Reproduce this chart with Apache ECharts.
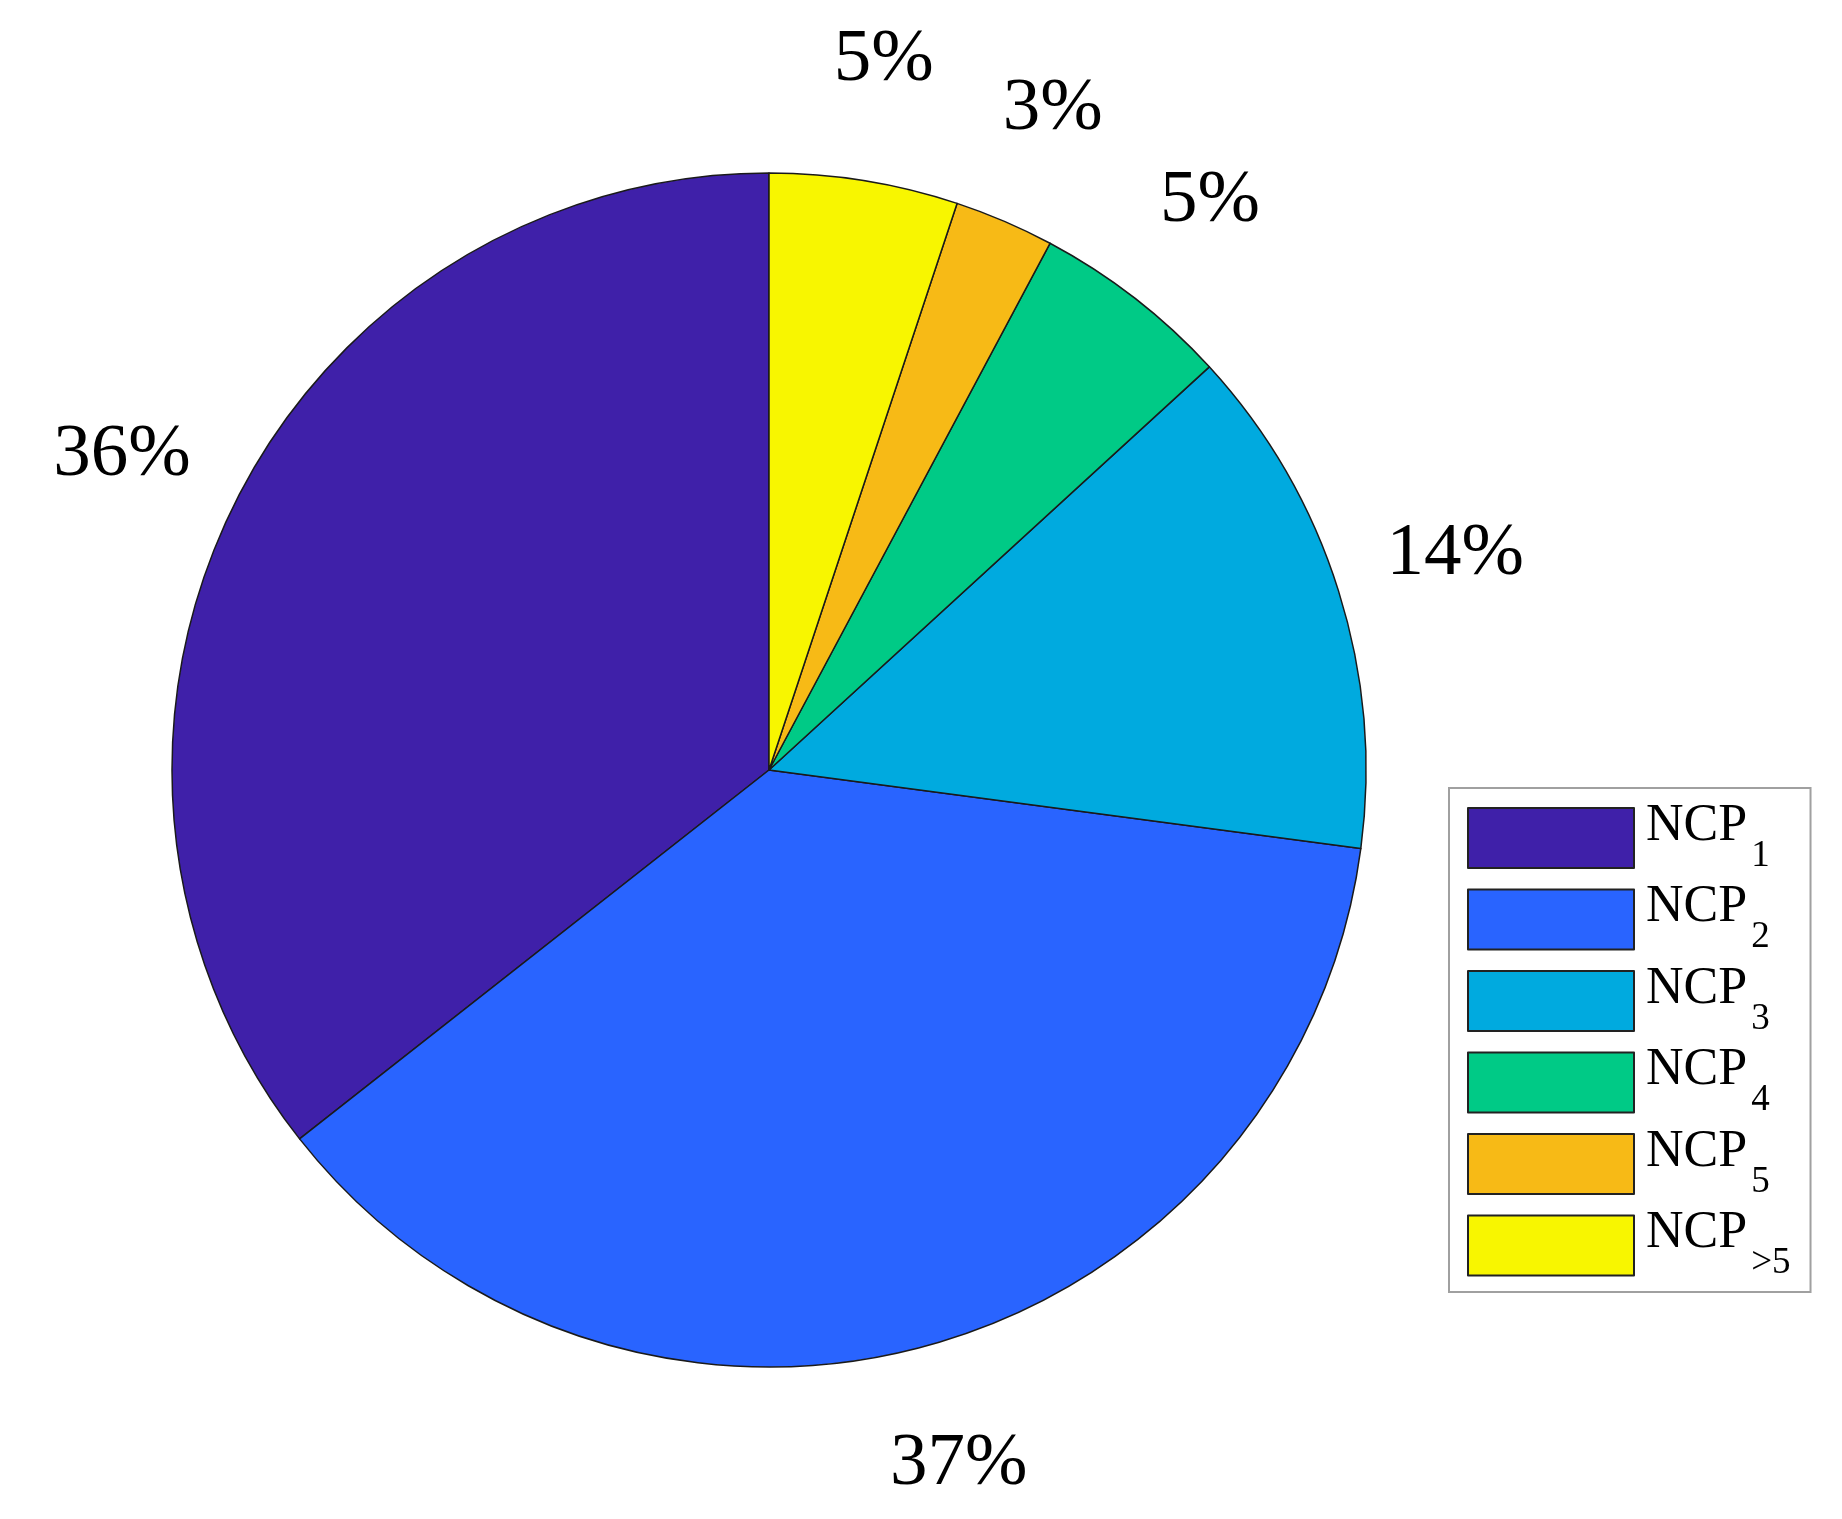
<!DOCTYPE html>
<html>
<head>
<meta charset="utf-8">
<script src="https://cdn.jsdelivr.net/npm/echarts@6/dist/echarts.min.js"></script>
<style>html,body{margin:0;padding:0;background:#fff}#c{width:1842px;height:1519px}</style>
</head>
<body>
<div id="c"></div>
<script>
// Data
var categories = ['NCP1', 'NCP2', 'NCP3', 'NCP4', 'NCP5', 'NCP>5'];
var subscripts = ['1', '2', '3', '4', '5', '>5'];
var values = [35.6, 37.3, 13.9, 5.4, 2.7, 5.1];
var colors = ['#3F20A9', '#2964FF', '#00AADF', '#00CA86', '#F7BA16', '#F8F600'];

var chart = echarts.init(document.getElementById('c'));
var pieData = categories.map(function (c, i) {
  return { name: c, value: values[i], itemStyle: { color: colors[i] } };
});
var labelData = categories.map(function (c, i) {
  return { name: c, value: values[i] };
});
var CX = 769, CY = 770, R = 597;
chart.setOption({
  animation: false,
  backgroundColor: '#fff',
  legend: {
    orient: 'vertical',
    left: 1449,
    top: 788,
    data: categories,
    icon: 'rect',
    itemWidth: 166,
    itemHeight: 60,
    itemGap: 7,
    padding: [12, 20, 10, 18],
    borderColor: '#a0a0a0',
    borderWidth: 2,
    selectedMode: false,
    itemStyle: { borderColor: '#222', borderWidth: 2 },
    formatter: function (name) {
      var i = categories.indexOf(name);
      return '{m|NCP}{s|' + subscripts[i] + '}';
    },
    textStyle: {
      padding: [0, 0, 0, 7],
      rich: {
        m: { fontFamily: 'Liberation Serif', fontSize: 52, color: '#000', padding: [0, 0, 24, 0] },
        s: { fontFamily: 'Liberation Serif', fontSize: 37, color: '#000', padding: [36, 0, 0, 4] }
      }
    }
  },
  series: [
    {
      type: 'pie',
      center: [CX, CY],
      radius: R,
      startAngle: 90,
      clockwise: false,
      avoidLabelOverlap: false,
      silent: true,
      label: { show: false },
      labelLine: { show: false },
      itemStyle: { borderColor: '#1a1a1a', borderWidth: 1.5 },
      data: pieData
    },
    {
      type: 'pie',
      center: [CX, CY],
      radius: [R * 1.17, R * 1.23],
      startAngle: 90,
      clockwise: false,
      avoidLabelOverlap: false,
      silent: true,
      itemStyle: { color: 'rgba(0,0,0,0)', borderWidth: 0 },
      label: {
        show: true,
        position: 'inside',
        color: '#000',
        fontFamily: 'Liberation Serif',
        fontSize: 75,
        formatter: function (p) { return Math.round(p.percent) + '%'; }
      },
      labelLine: { show: false },
      data: labelData
    }
  ]
});
</script>
</body>
</html>
